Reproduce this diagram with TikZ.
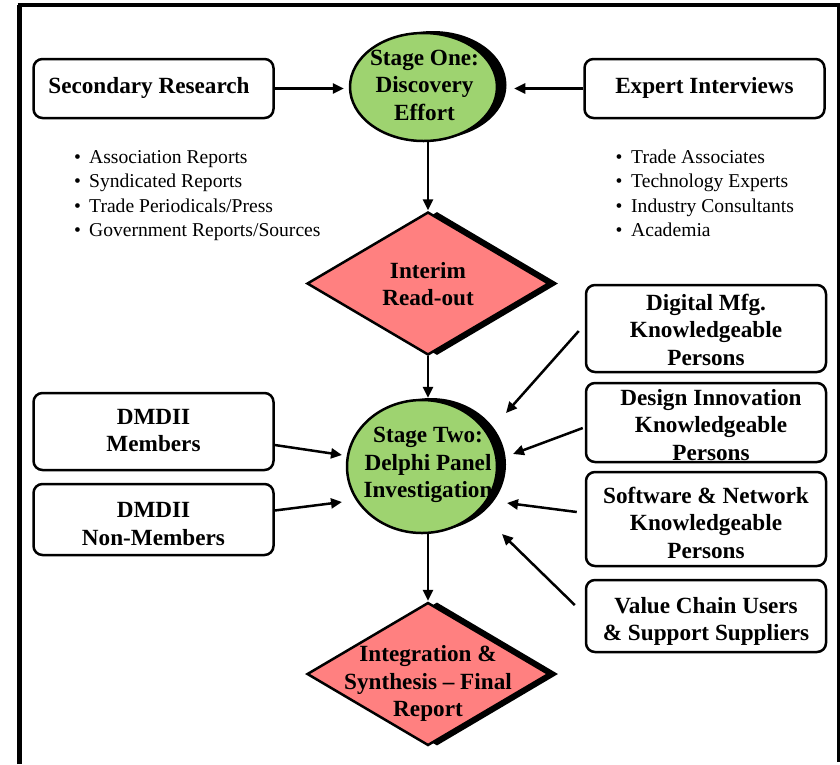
\documentclass[tikz,border=0pt]{standalone}
\usepackage{fontspec}
\setmainfont{Liberation Serif}
\usetikzlibrary{shapes.geometric,arrows.meta,calc}
\definecolor{stagegreen}{RGB}{158,211,112}
\definecolor{diapink}{RGB}{255,128,128}
\begin{document}
\begin{tikzpicture}[x=1pt,y=-1pt,
  box/.style={draw, line width=2.5pt, rounded corners=9pt, minimum width=240pt, inner sep=0pt, fill=white},
  bt/.style={font=\fontsize{23.2}{27.5}\selectfont\bfseries, align=center, inner sep=0pt},
  lt/.style={font=\fontsize{19.6}{24.5}\selectfont, anchor=base west, inner sep=0pt},
  stage/.style={ellipse, draw, line width=2.5pt, fill=stagegreen, inner sep=0pt},
  stageshadow/.style={ellipse, fill=black, inner sep=0pt},
  dia/.style={diamond, draw, line width=2.5pt, fill=diapink, inner sep=0pt, minimum width=242pt, minimum height=143pt},
  diashadow/.style={diamond, fill=black, inner sep=0pt, minimum width=242pt, minimum height=143pt},
  arr/.style={line width=2.5pt, -{Triangle[length=11pt,width=10pt]}}
]
\useasboundingbox (0,0) rectangle (840,764);
% frame
\draw[line width=4.5pt] (19.5,764) -- (19.5,5.3);
\draw[line width=4pt] (17.5,5.3) -- (840,5.3);
\draw[line width=3pt] (838.5,5.3) -- (838.5,762);

% top boxes
\node[box, minimum height=59pt] (sr) at (153.5,88.5) {};
\node[bt] (srt) at (149,88) {Secondary Research};
\node[box, minimum height=59pt] (ei) at (704.5,88.5) {};
\node[bt] (eit) at (704.5,88) {Expert Interviews};

% stage one
\node[stageshadow, minimum width=147pt, minimum height=108pt] (s1sh) at (433,85) {};
\node[stage, minimum width=147pt, minimum height=108pt] (s1) at (423.5,87) {};
\node[bt] (s1t) at (424.5,85) {Stage One:\\Discovery\\Effort};

% bullets
\node[lt] (b1) at (74,163) {\makebox[15pt][l]{•}Association Reports};
\node[lt] (b2) at (74,187.5) {\makebox[15pt][l]{•}Syndicated Reports};
\node[lt] (b3) at (74,212) {\makebox[15pt][l]{•}Trade Periodicals/Press};
\node[lt] (b4) at (74,236.5) {\makebox[15pt][l]{•}Government Reports/Sources};
\node[lt] (c1) at (615.5,163) {\makebox[15.5pt][l]{•}Trade Associates};
\node[lt] (c2) at (615.5,187.5) {\makebox[15.5pt][l]{•}Technology Experts};
\node[lt] (c3) at (615.5,212) {\makebox[15.5pt][l]{•}Industry Consultants};
\node[lt] (c4) at (615.5,236.5) {\makebox[15.5pt][l]{•}Academia};

% interim
\node[diashadow] (irsh) at (437,283.5) {};
\node[dia] (ir) at (428,283.5) {};
\node[bt] (irt) at (428,284) {Interim\\Read-out};

% stage two
\node[stageshadow, minimum width=150pt, minimum height=133pt] (s2sh) at (431,464.5) {};
\node[stage, minimum width=150pt, minimum height=133pt] (s2) at (422,466.5) {};
\node[bt] (s2t) at (428,465) {Stage Two:\\Delphi Panel\\Investigation};

% final
\node[diashadow] (frsh) at (437,674) {};
\node[dia] (fr) at (428,674) {};
\node[bt] (frt) at (428,683.5) {Integration \&\\Synthesis – Final\\Report};

% left boxes
\node[box, minimum height=77pt] (mem) at (153.5,431.5) {};
\node[bt] (memt) at (153.5,430.5) {DMDII\\Members};
\node[box, minimum height=71pt] (non) at (153.5,519.5) {};
\node[bt] (nont) at (153.5,524) {DMDII\\Non-Members};

% right boxes
\node[box, minimum height=87pt] (dm) at (706,328.5) {};
\node[bt] (dmt) at (706,329.5) {Digital Mfg.\\Knowledgeable\\Persons};
\node[box, minimum height=79pt] (di) at (706,422.5) {};
\node[bt] (dit) at (711,425) {Design Innovation\\Knowledgeable\\Persons};
\node[box, minimum height=94pt] (sw) at (706,519) {};
\node[bt] (swt) at (706,522.5) {Software \& Network\\Knowledgeable\\Persons};
\node[box, minimum height=72pt] (vc) at (706,616) {};
\node[bt] (vct) at (706,621.5) {Value Chain Users\\\& Support Suppliers};

% arrow ends
\coordinate (e1) at (506,413);
\coordinate (e2) at (513,454);
\coordinate (e3) at (507,503);
\coordinate (e4) at (502,534);
\coordinate (e5) at (342,455);
\coordinate (e6) at (342,502);

% connectors
\draw[arr, shorten >=5pt] (sr.east) -- (sr.east -| s1.west);
\draw[arr, shorten >=16pt] (ei.west) -- (ei.west -| s1.east);
\draw[arr, shorten >=0.5pt] (ir.north |- s1.south) -- (ir.north);
\draw[arr, shorten >=1pt] (ir.south) -- (ir.south |- s2.north);
\draw[arr, shorten >=0.5pt] (fr.north |- s2.south) -- (fr.north);
\draw[arr] ($(mem.east)+(0,13.5)$) -- (e5);
\draw[arr] ($(non.east)+(0,-9)$) -- (e6);
\draw[arr] ($(dm.west)+(-6,2.5)$) -- (e1);
\draw[arr] ($(di.west)+(-2,5.5)$) -- (e2);
\draw[arr] ($(sw.west)+(-8,-7)$) -- (e3);
\draw[arr] ($(vc.west)+(-10,-11)$) -- (e4);
\end{tikzpicture}
\end{document}
